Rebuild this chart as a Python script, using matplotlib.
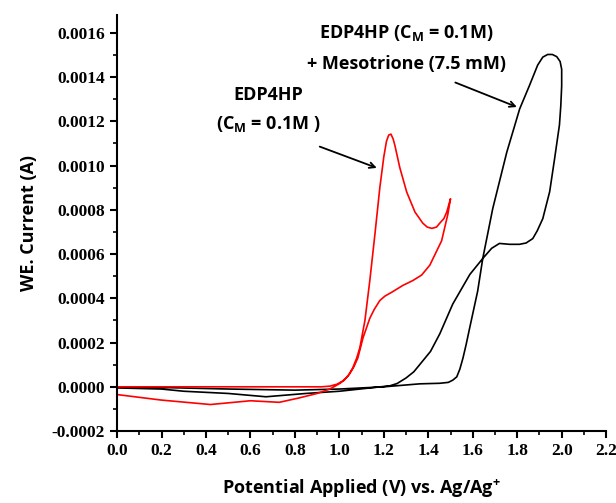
import numpy as np
import matplotlib.pyplot as plt
from matplotlib.ticker import MultipleLocator, FormatStrFormatter

plt.rcParams['axes.unicode_minus'] = False

# EDP4HP alone (red), forward then reverse scan
red_fwd_v = [0.0, 0.5, 0.86, 0.92, 0.957, 0.99, 1.016, 1.04, 1.06, 1.078, 1.092, 1.115,
             1.137, 1.16, 1.182, 1.20, 1.212, 1.222, 1.232, 1.242, 1.25, 1.272, 1.303,
             1.34, 1.375, 1.395, 1.416, 1.437, 1.452, 1.47, 1.483, 1.50]
red_fwd_i = [0.0, 0.0, 0.0, 0.0, 0.000003, 0.000012, 0.000027, 0.00005, 0.000085,
             0.00013, 0.000176, 0.0003, 0.00048, 0.00069, 0.0009, 0.00104, 0.00111,
             0.001138, 0.001142, 0.00112, 0.00109, 0.00099, 0.00088, 0.00079, 0.00074,
             0.000722, 0.000716, 0.000722, 0.00074, 0.00076, 0.00079, 0.00085]
red_rev_v = [1.50, 1.488, 1.46, 1.407, 1.37, 1.33, 1.285, 1.24, 1.205, 1.182, 1.157,
             1.137, 1.106, 1.083, 1.065, 1.047, 1.022, 1.0, 0.957, 0.9, 0.82, 0.73, 0.6,
             0.42, 0.2, 0.0]
red_rev_i = [0.00085, 0.00078, 0.00066, 0.00055, 0.000505, 0.00048, 0.000458, 0.00043,
             0.00041, 0.00039, 0.00035, 0.00031, 0.00022, 0.00013, 0.00009, 0.00006,
             0.00003, 0.000014, -0.00001, -0.00003, -0.00005, -0.00007, -0.000063,
             -0.00008, -0.00006, -0.000035]

# EDP4HP + Mesotrione (black)
blk_fwd_v = [0.0, 0.2, 0.5, 0.8, 1.0, 1.2, 1.362, 1.452, 1.49, 1.51, 1.528, 1.542, 1.556,
             1.57, 1.587, 1.622, 1.645, 1.69, 1.753, 1.811, 1.856, 1.892, 1.915, 1.937,
             1.958, 1.978, 1.993, 2.0]
blk_fwd_i = [0.0, -0.000003, -0.00001, -0.000015, -0.00001, 0.0, 0.0000135, 0.000016,
             0.00002, 0.00003, 0.000045, 0.00008, 0.00013, 0.00019, 0.00027, 0.000432,
             0.00058, 0.000806, 0.00106, 0.001256, 0.001364, 0.001454, 0.00149, 0.001502,
             0.001502, 0.001492, 0.00147, 0.001435]
blk_rev_v = [2.0, 2.0, 1.996, 1.99, 1.968, 1.946, 1.915, 1.89, 1.87, 1.84, 1.81, 1.766,
             1.72, 1.685, 1.645, 1.587, 1.51, 1.452, 1.41, 1.375, 1.335, 1.30, 1.26, 1.227,
             1.0, 0.85, 0.67, 0.5, 0.3, 0.2, 0.0]
blk_rev_i = [0.001435, 0.00136, 0.00127, 0.001184, 0.00103, 0.000882, 0.00076, 0.000705,
             0.00067, 0.00065, 0.000644, 0.000644, 0.000648, 0.000626, 0.00058, 0.000508,
             0.000374, 0.00024, 0.00016, 0.000117, 0.000068, 0.00004, 0.000015,
             0.0000045, -0.00002, -0.00003, -0.000045, -0.00003, -0.00002, -0.00001,
             -0.000005]

fig = plt.figure(figsize=(6.16, 5.03), dpi=100)
ax = fig.add_axes([0.19, 0.143, 0.794, 0.827])

ax.plot(blk_fwd_v + blk_rev_v, blk_fwd_i + blk_rev_i, color='black', lw=1.2)
ax.plot(red_fwd_v + red_rev_v, red_fwd_i + red_rev_i, color='red', lw=1.2)

ax.set_xlim(0, 2.2)
ax.set_ylim(-0.0002, 0.00168)
ax.spines['top'].set_visible(False)
ax.spines['right'].set_visible(False)
for s in ['left', 'bottom']:
    ax.spines[s].set_linewidth(1.5)

ax.xaxis.set_major_locator(MultipleLocator(0.2))
ax.xaxis.set_minor_locator(MultipleLocator(0.1))
ax.yaxis.set_major_locator(MultipleLocator(0.0002))
ax.yaxis.set_minor_locator(MultipleLocator(0.0001))
ax.xaxis.set_major_formatter(FormatStrFormatter('%.1f'))
ax.yaxis.set_major_formatter(FormatStrFormatter('%.4f'))
ax.tick_params(which='major', length=5, width=1.5, direction='out')
ax.tick_params(which='minor', length=3, width=1.2, direction='out')
for lab in ax.get_xticklabels() + ax.get_yticklabels():
    lab.set_fontfamily('Liberation Serif')
    lab.set_fontweight('bold')
    lab.set_fontsize(12.5)

sans = 'Open Sans'
ax.set_xlabel('Potential Applied (V) vs. Ag/Ag$^\\mathregular{+}$', family=sans,
              fontweight='bold', fontsize=13, labelpad=13)
ax.set_ylabel('WE. Current (A)', family=sans, fontweight='bold', fontsize=13, labelpad=10)

ax.text(0.68, 0.00132, 'EDP4HP', family=sans, fontweight='bold', fontsize=13,
        ha='center', va='center')
ax.text(0.68, 0.00119, '(C$_\\mathregular{M}$ = 0.1M )', family=sans, fontweight='bold',
        fontsize=13, ha='center', va='center')
ax.annotate('', xy=(1.18, 0.000985), xytext=(0.90, 0.00109),
            arrowprops=dict(arrowstyle='->', color='black', lw=1.3))

ax.text(1.30, 0.00160, 'EDP4HP (C$_\\mathregular{M}$ = 0.1M)', family=sans,
        fontweight='bold', fontsize=13, ha='center', va='center')
ax.text(1.30, 0.001458, '+ Mesotrione (7.5 mM)', family=sans, fontweight='bold',
        fontsize=13, ha='center', va='center')
ax.annotate('', xy=(1.81, 0.00126), xytext=(1.51, 0.00138),
            arrowprops=dict(arrowstyle='->', color='black', lw=1.3))

fig.savefig('out.png', dpi=100)
